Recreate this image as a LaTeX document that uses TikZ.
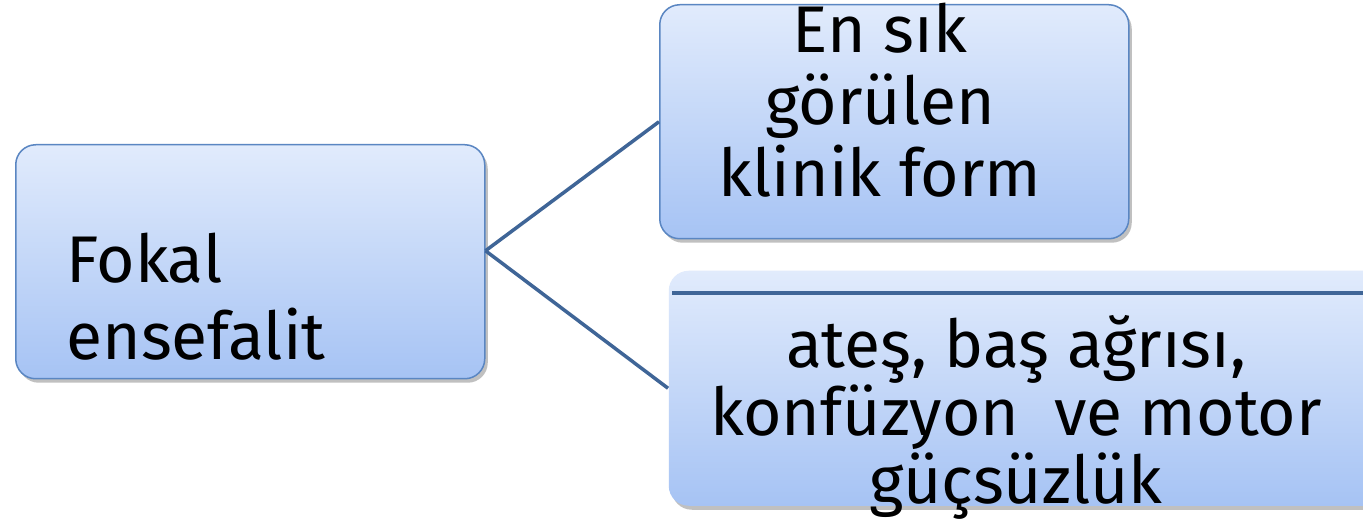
\documentclass[tikz,border=0pt]{standalone}
\usepackage{fontspec}
\setmainfont{Fira Sans}
\usetikzlibrary{shadows,calc}
\definecolor{boxtop}{HTML}{E1EBFC}
\definecolor{boxbot}{HTML}{A6C3F4}
\definecolor{boxline}{HTML}{5A86C2}
\definecolor{conn}{HTML}{3F6597}
\tikzset{
  box/.style={rectangle, rounded corners=20pt, top color=boxtop, bottom color=boxbot,
    draw=boxline, line width=1.5pt, inner sep=0pt,
    drop shadow={shadow xshift=3pt, shadow yshift=-4pt, opacity=0.35, fill=black!70}},
  conline/.style={draw=conn, line width=3.5pt},
  txt/.style={inner sep=0pt, text=black}
}
\begin{document}
\begin{tikzpicture}[x=1pt,y=-1pt]
\clip (0,0) rectangle (1363,526);
\fill[white] (0,0) rectangle (1363,526);
% boxes
\node[box, minimum width=469pt, minimum height=234pt, anchor=north west] (L) at (15,144) {};
\node[box, minimum width=469pt, minimum height=234pt, anchor=north west] (TR) at (659,4) {};
\node[box, draw=none, minimum width=740pt, minimum height=235pt, anchor=north west] (BR) at (668,270) {};
\draw[conn, line width=4pt] ($(BR.north west)+(4,23)$) -- ($(BR.north east)+(0,23)$);
% connectors
\coordinate (J) at ([yshift=11pt]L.east);
\draw[conline] (J) -- (TR.west);
\draw[conline] (J) -- (BR.west);
% texts
\node[txt, align=left, font=\fontsize{66}{77}\selectfont] (tL) at (196,297) {Fokal\\ensefalit};
\node[txt, align=center, font=\fontsize{66}{72}\selectfont] (tTR) at (880,100) {En sık\\görülen\\klinik form};
\node[txt, align=center, font=\fontsize{66}{68}\selectfont] (tBR) at (1016,417) {ateş, baş ağrısı,\\konfüzyon~~ve motor\\güçsüzlük};
\end{tikzpicture}
\end{document}
